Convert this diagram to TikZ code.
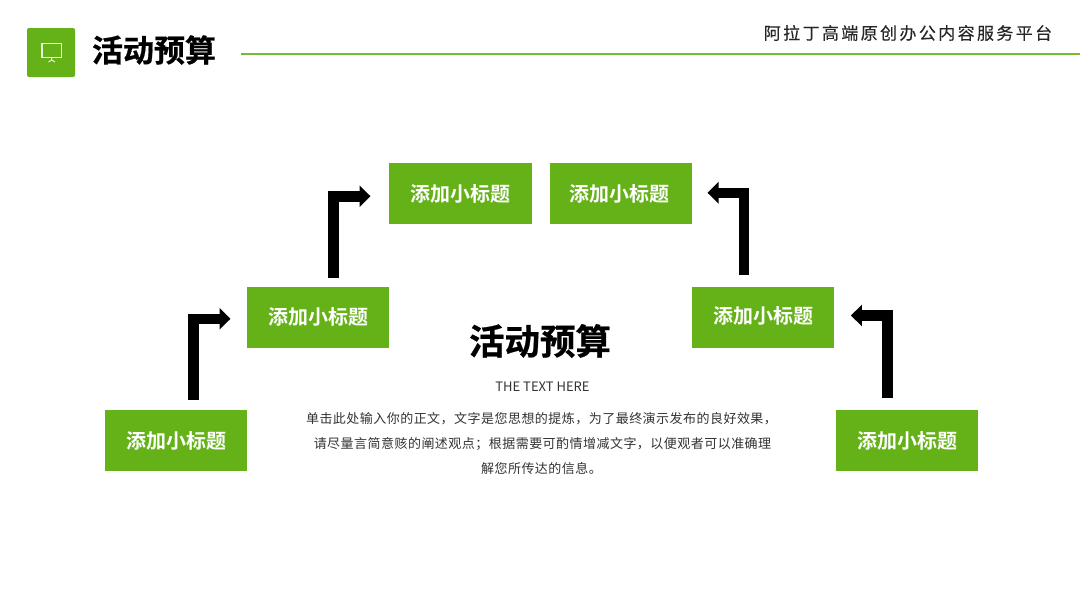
\documentclass[tikz,border=0pt]{standalone}
\usepackage{fontspec}
\usetikzlibrary{arrows.meta,positioning}
\newfontfamily\cjk{Noto Sans CJK SC}
\newfontfamily\cjkbold[FakeBold=0.6]{Noto Sans CJK SC Bold}
\newfontfamily\cjkmed{Noto Sans CJK SC Bold}
\newfontfamily\cjkspaced[LetterSpace=14,FakeBold=0.15]{Noto Sans CJK SC}
\newfontfamily\cjkbody[LetterSpace=3.6]{Noto Sans CJK SC}
\definecolor{brandgreen}{HTML}{64B118}
\definecolor{rulegreen}{HTML}{72BB32}
\definecolor{iconline}{HTML}{E8F5D8}
\tikzset{
  x=1pt,y=-1pt,
  greenbox/.style={fill=brandgreen,draw=none,minimum width=142pt,minimum height=61pt,inner sep=0pt,text=white,font=\cjkmed\fontsize{20}{24}\selectfont},
  flowarrow/.style={draw=black,line width=10.6pt,line join=miter,-{Triangle[length=11pt,width=21pt]}},
  bodyline/.style={inner sep=0pt,text=black!80,font=\cjkbody\fontsize{13}{16}\selectfont},
}
\begin{document}
\begin{tikzpicture}
\useasboundingbox (0,0) rectangle (1080,608);
\fill[white] (0,0) rectangle (1080,608);
% header
\node[fill=brandgreen,rounded corners=2pt,minimum width=48pt,minimum height=49pt,inner sep=0pt] (badge) at (51,52.5) {};
\draw[iconline,line width=1.4pt] (42,43.6) rectangle (61.5,57.5);
\draw[iconline,line width=1pt] (51.7,57.5) -- (51.7,60) (48.5,62) -- (51.7,60) -- (55,62);
\node[inner sep=0pt,font=\cjkbold\fontsize{31}{36}\selectfont] (title) at (154,50) {活动预算};
\node[inner sep=0pt,text=black!85,font=\cjkspaced\fontsize{17}{20}\selectfont] (brand) at (908,33) {阿拉丁高端原创办公内容服务平台};
\coordinate (ruleend) at (1080,54);
\draw[rulegreen,line width=1.8pt] (241,54) -- (ruleend);
% boxes
\node[greenbox] (b1) at (176,440.5) {\raisebox{2pt}{添加小标题}};
\node[greenbox] (b2) at (318,317.5) {\raisebox{3pt}{添加小标题}};
\node[greenbox,minimum width=143pt] (b3) at (460.5,193.5) {添加小标题};
\node[greenbox] (b4) at (621,193.5) {\hspace{-4pt}添加小标题};
\node[greenbox] (b5) at (763,317.5) {\raisebox{5pt}{添加小标题}};
\node[greenbox] (b6) at (907,440.5) {\raisebox{2pt}{添加小标题}};
% arrows
\draw[flowarrow] ([shift={(17.6,-9.5)}]b1.north) |- ([shift={(-16.3,1.3)}]b2.west);
\draw[flowarrow] ([shift={(15.7,-8.7)}]b2.north) |- ([shift={(-18.3,2.7)}]b3.west);
\draw[flowarrow] ([shift={(-19.2,-11.7)}]b5.north) |- ([shift={(15.3,-0.7)}]b4.east);
\draw[flowarrow] ([shift={(-19.6,-12.3)}]b6.north) |- ([shift={(16.7,-2)}]b5.east);
% centre text
\node[inner sep=0pt,font=\cjkbold\fontsize{35.5}{40}\selectfont] (heading) at (540,341) {活动预算};
\node[inner sep=0pt,text=black!80,font=\cjk\fontsize{13}{16}\selectfont] (sub) at (542.5,386.5) {THE TEXT HERE};
\node[bodyline] (l1) at (541.5,418.7) {单击此处输入你的正文，文字是您思想的提炼，为了最终演示发布的良好效果，};
\node[bodyline] (l2) at (542.5,444) {请尽量言简意赅的阐述观点；根据需要可酌情增减文字，以便观者可以准确理};
\node[bodyline] (l3) at (541.5,468.7) {解您所传达的信息。};
\end{tikzpicture}
\end{document}
